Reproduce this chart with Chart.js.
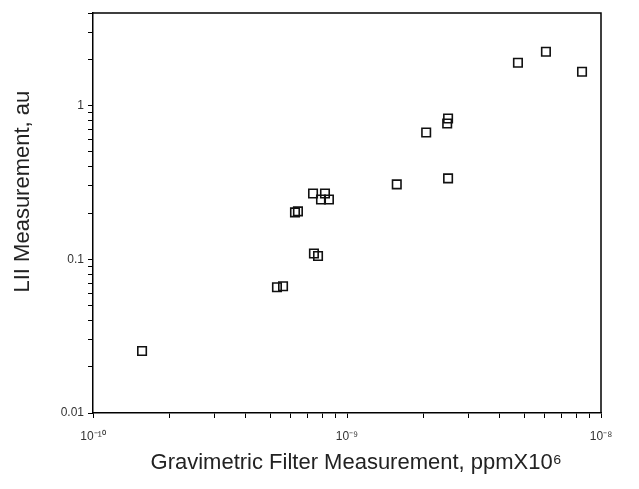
<!DOCTYPE html>
<html>
<head>
<meta charset="utf-8">
<script src="https://cdn.jsdelivr.net/npm/chart.js@4.4.1/dist/chart.umd.min.js"></script>
<style>
html, body { margin: 0; padding: 0; background: #fff; }
#wrap { width: 639px; height: 489px; }
</style>
</head>
<body>
<div id="wrap"><canvas id="c" width="639" height="489"></canvas></div>
<script>
// Gravimetric filter measurement (ppm x 10^6)
const gravimetric = [1.56e-10, 5.30e-10, 5.60e-10, 6.24e-10, 6.41e-10, 7.35e-10, 8.19e-10, 7.90e-10, 8.49e-10,
  7.41e-10, 7.69e-10, 1.57e-9, 2.05e-9, 2.50e-9, 2.48e-9, 2.50e-9, 4.71e-9, 6.07e-9, 8.42e-9];
// LII measurement (au)
const lii = [0.0253, 0.0658, 0.0668, 0.202, 0.205, 0.268, 0.268, 0.245, 0.245,
  0.109, 0.105, 0.307, 0.668, 0.823, 0.764, 0.336, 1.90, 2.24, 1.66];

const xRange = [1e-10, 1e-8];
const yRange = [0.01, 4];
const xTitle = '   Gravimetric Filter Measurement, ppmX10\u2076';
const yTitle = '       LII Measurement, au';

const sup = {'-':'\u207B','0':'\u2070','1':'\u00B9','2':'\u00B2','3':'\u00B3','4':'\u2074','5':'\u2075','6':'\u2076','7':'\u2077','8':'\u2078','9':'\u2079'};
function isDecade(v) { const l = Math.log10(v); return Math.abs(l - Math.round(l)) < 1e-6; }
function logTicks(min, max) {
  const out = [];
  for (let e = Math.floor(Math.log10(min)); e <= Math.ceil(Math.log10(max)); e++) {
    for (let m = 1; m <= 9; m++) {
      const v = m * Math.pow(10, e);
      if (v >= min * 0.999999 && v <= max * 1.000001) out.push({value: v});
    }
  }
  return out;
}

const points = gravimetric.map((x, i) => ({x: x, y: lii[i]}));

const frame = {
  id: 'frame',
  afterDraw(chart) {
    const {ctx, chartArea: a} = chart;
    ctx.save();
    ctx.strokeStyle = '#000';
    ctx.lineWidth = 1.5;
    ctx.beginPath();
    ctx.moveTo(a.left, a.top);
    ctx.lineTo(a.right, a.top);
    ctx.lineTo(a.right, a.bottom);
    ctx.stroke();
    ctx.restore();
  }
};

const FONT = 'Liberation Sans, Arial, Helvetica, sans-serif';

new Chart(document.getElementById('c'), {
  type: 'scatter',
  data: {
    datasets: [{
      data: points,
      pointStyle: 'rect',
      radius: 6,
      hoverRadius: 6,
      borderWidth: 1.6,
      borderColor: '#111',
      backgroundColor: 'rgba(0,0,0,0)'
    }]
  },
  options: {
    responsive: false,
    animation: false,
    devicePixelRatio: 1,
    layout: { padding: { left: 0, right: 38, top: 13, bottom: 0 } },
    plugins: { legend: { display: false }, tooltip: { enabled: false } },
    scales: {
      x: {
        type: 'logarithmic',
        min: xRange[0], max: xRange[1],
        afterBuildTicks: s => { s.ticks = logTicks(xRange[0], xRange[1]); },
        afterFit: s => { s.height = 76; },
        border: { display: true, color: '#000', width: 1.5 },
        grid: { drawOnChartArea: false, drawTicks: true, tickLength: 5, color: '#000', tickColor: '#000' },
        ticks: {
          autoSkip: false, maxRotation: 0, padding: 11,
          color: '#333', font: { family: FONT, size: 12 },
          callback: v => isDecade(v) ? '10' + String(Math.round(Math.log10(v))).split('').map(c => sup[c]).join('') : ''
        },
        title: { display: true, text: xTitle, color: '#222', padding: { top: 0, bottom: 13 },
          font: { family: FONT, size: 22 } }
      },
      y: {
        type: 'logarithmic',
        min: yRange[0], max: yRange[1],
        afterBuildTicks: s => { s.ticks = logTicks(yRange[0], yRange[1]); },
        afterFit: s => { s.width = 93; },
        border: { display: true, color: '#000', width: 1.5 },
        grid: { drawOnChartArea: false, drawTicks: true, tickLength: 5, color: '#000', tickColor: '#000' },
        ticks: {
          autoSkip: false, padding: 4,
          color: '#333', font: { family: FONT, size: 12 },
          callback: v => isDecade(v) ? (Math.round(Math.log10(v)) >= 0 ? String(Math.round(v)) : v.toFixed(-Math.round(Math.log10(v)))) : ''
        },
        title: { display: true, text: yTitle, color: '#222', padding: { top: 10, bottom: 0 },
          font: { family: FONT, size: 22 } }
      }
    }
  },
  plugins: [frame]
});
</script>
</body>
</html>
